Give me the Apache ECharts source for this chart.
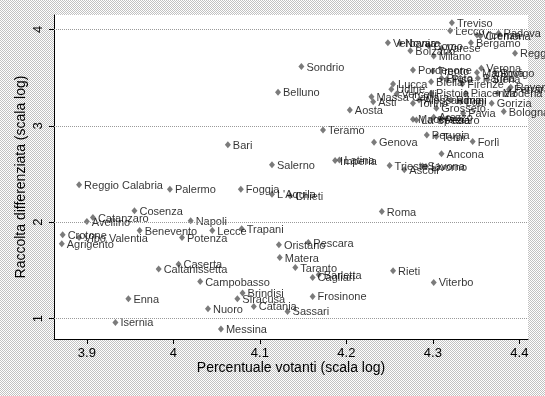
<!DOCTYPE html>
<html><head><meta charset="utf-8">
<script src="https://cdn.jsdelivr.net/npm/echarts@6/dist/echarts.min.js"></script>
<style>html,body{margin:0;padding:0;background:#fff;}#c{width:545px;height:396px;}</style>
</head><body><div id="c"></div>
<script>
const names = ["Treviso","Lecco","Vicenza","Cremona","Padova","Bergamo","Reggio Emilia","Verbania","Novara","Bolzano",
"Como","Varese","Milano","Sondrio","Belluno","Aosta","Pordenone","Trento","Verona","Mantova",
"Rovigo","Lucca","Udine","Biella","Prato","Pisa","Firenze","Parma","Siena","Ravenna",
"Ferrara","Modena","Pistoia","Piacenza","Massa Carrara","Asti","Vercelli","Torino","Alessandria","Rimini",
"Lodi","Gorizia","Grosseto","Pavia","Bologna","Macerata","La Spezia","Arezzo","Pesaro","Teramo",
"Genova","Perugia","Terni","Forlì","Ancona","Imperia","Latina","Trieste","Ascoli","Savona",
"Livorno","Bari","Salerno","L'Aquila","Chieti","Roma","Foggia","Palermo","Reggio Calabria","Cosenza",
"Catanzaro","Avellino","Napoli","Benevento","Lecce","Trapani","Crotone","Vibo Valentia","Agrigento","Potenza",
"Caserta","Caltanissetta","Oristano","Pescara","Matera","Taranto","Cagliari","Barletta","Rieti","Viterbo",
"Campobasso","Brindisi","Siracusa","Frosinone","Nuoro","Catania","Sassari","Messina","Enna","Isernia"];
const xVals = [4.322,4.320,4.351,4.355,4.376,4.344,4.395,4.248,4.262,4.274,
4.295,4.310,4.301,4.148,4.121,4.204,4.277,4.300,4.356,4.351,
4.372,4.254,4.252,4.298,4.310,4.316,4.334,4.352,4.363,4.390,
4.388,4.375,4.298,4.338,4.229,4.231,4.258,4.277,4.284,4.321,
4.332,4.368,4.304,4.335,4.382,4.277,4.281,4.301,4.308,4.173,
4.232,4.293,4.304,4.346,4.310,4.187,4.192,4.250,4.267,4.288,
4.292,4.063,4.114,4.114,4.135,4.241,4.078,3.996,3.891,3.955,
3.907,3.900,4.020,3.961,4.045,4.079,3.872,3.891,3.871,4.010,
4.006,3.983,4.122,4.156,4.123,4.141,4.161,4.168,4.254,4.301,
4.031,4.080,4.074,4.161,4.040,4.093,4.132,4.055,3.948,3.933];
const yVals = [4.068,3.985,3.941,3.930,3.958,3.861,3.751,3.861,3.853,3.778,
3.830,3.803,3.723,3.613,3.347,3.164,3.578,3.568,3.596,3.551,
3.551,3.433,3.379,3.457,3.492,3.480,3.433,3.492,3.480,3.399,
3.379,3.337,3.337,3.337,3.302,3.250,3.330,3.234,3.268,3.268,
3.250,3.234,3.182,3.130,3.147,3.068,3.061,3.089,3.061,2.957,
2.830,2.905,2.888,2.836,2.709,2.639,2.646,2.587,2.543,2.584,
2.577,2.802,2.595,2.291,2.274,2.111,2.343,2.343,2.388,2.118,
2.049,2.008,2.015,1.914,1.914,1.932,1.870,1.842,1.777,1.842,
1.566,1.515,1.766,1.790,1.635,1.531,1.428,1.456,1.497,1.376,
1.386,1.266,1.207,1.231,1.104,1.128,1.076,0.893,1.207,0.962];
const xTicks = [3.9,4,4.1,4.2,4.3,4.4];
const yTicks = [1,2,3,4];
const xTitle = "Percentuale votanti (scala log)";
const yTitle = "Raccolta differenziata (scala log)";

const FONT = "Liberation Sans, Arial, sans-serif";
const pc = document.createElement('canvas'); pc.width = 4; pc.height = 4;
const g = pc.getContext('2d');
g.fillStyle = '#ffffff'; g.fillRect(0,0,4,4);
g.fillStyle = '#c2c2c2';
[[0,0],[2,0],[1,1],[3,1],[0,2],[2,2],[1,3],[3,3]].forEach(p => g.fillRect(p[0],p[1],1,1));

const data = names.map((n,i) => ({name:n, value:[xVals[i], yVals[i]]}));
const fmt = v => String(Math.round(v*10)/10);

const chart = echarts.init(document.getElementById('c'), null, {renderer:'canvas'});
chart.setOption({
  animation:false,
  backgroundColor:{image:pc, repeat:'repeat'},
  grid:{left:54, top:15, right:17, bottom:57, show:true, backgroundColor:'#ffffff', borderWidth:0},
  xAxis:{type:'value', min:3.862, max:4.41,
    axisLine:{onZero:false, lineStyle:{color:'#000', width:1}},
    axisTick:{show:true, length:5, customValues:xTicks, lineStyle:{color:'#000'}},
    axisLabel:{customValues:xTicks, formatter:fmt, color:'#000', fontSize:13, margin:8, fontFamily:FONT},
    splitLine:{show:false},
    name:xTitle, nameLocation:'middle', nameGap:22, nameMoveOverlap:false,
    nameTextStyle:{color:'#000', fontSize:14, fontFamily:FONT}},
  yAxis:{type:'value', min:0.79, max:4.148,
    axisLine:{onZero:false, lineStyle:{color:'#000', width:1}},
    axisTick:{show:true, length:5, customValues:yTicks, lineStyle:{color:'#000'}},
    axisLabel:{customValues:yTicks, formatter:fmt, color:'#000', fontSize:13, margin:9, rotate:90, fontFamily:FONT},
    splitLine:{show:false},
    name:yTitle, nameLocation:'middle', nameGap:26, nameMoveOverlap:false,
    nameTextStyle:{color:'#000', fontSize:14, fontFamily:FONT}},
  series:[{
    type:'scatter', data:data, symbol:'diamond', symbolSize:[6,7],
    itemStyle:{color:'#5a5a5a'},
    label:{show:true, position:'right', distance:2, offset:[0,1], formatter:'{b}', color:'#000', fontSize:11, fontFamily:FONT},
    markLine:{silent:true, symbol:'none', label:{show:false}, animation:false,
      lineStyle:{type:'dotted', color:'#9a9a9a', width:1},
      data: yTicks.map(v => ({yAxis:v}))}
  }]
});
</script></body></html>
